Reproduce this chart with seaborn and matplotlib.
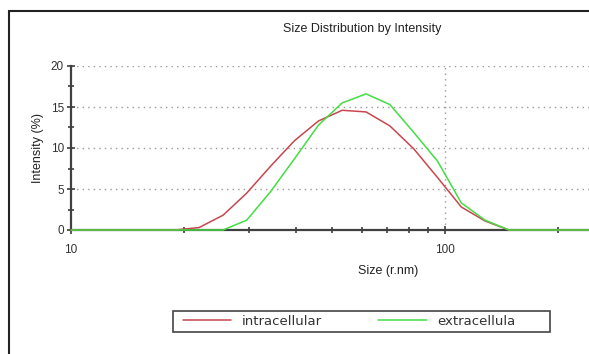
import numpy as np
import pandas as pd
import seaborn as sns
import matplotlib.pyplot as plt
from matplotlib.ticker import FixedLocator, NullFormatter, FixedFormatter
from matplotlib.patches import Rectangle

# size bins (r.nm) and intensity (%)
sizes = [10.0, 10.6, 12.2, 14.2, 16.4, 19.0, 22.0, 25.5, 29.5, 34.2, 39.6, 45.9,
         53.1, 61.5, 71.2, 82.5, 95.5, 110.6, 128.0, 148.3, 171.7, 198.8, 230.2, 266.6]
intracellular = [0, 0, 0, 0, 0, 0, 0.3, 1.8, 4.5, 7.8, 10.9, 13.3,
                 14.6, 14.4, 12.7, 9.9, 6.4, 2.8, 1.1, 0, 0, 0, 0, 0]
extracellular = [0, 0, 0, 0, 0, 0, 0, 0, 1.2, 4.7, 8.7, 12.8,
                 15.5, 16.6, 15.3, 11.9, 8.4, 3.3, 1.2, 0, 0, 0, 0, 0]
labels = ['intracellular', 'extracellula']
colors = ['#c8464e', '#44dd44']

df = pd.DataFrame({
    'size': sizes * 2,
    'intensity': intracellular + extracellular,
    'sample': [labels[0]] * len(sizes) + [labels[1]] * len(sizes),
})

sns.set_style('white')
plt.rcParams['font.family'] = ['Liberation Sans', 'DejaVu Sans']

fig = plt.figure(figsize=(5.89, 3.54), dpi=100)
ax = fig.add_axes([71 / 589, 1 - 230 / 354, 1 - 71 / 589, (230 - 66) / 354])

sns.lineplot(data=df, x='size', y='intensity', hue='sample', palette=colors,
             linewidth=1.1, ax=ax, legend=False)
for ln in ax.lines:
    ln.set_zorder(4)
    ln.set_clip_on(False)

ax.set_xscale('log')
ax.set_xlim(10, 242.7)
ax.set_ylim(0, 20)

ax.xaxis.set_major_locator(FixedLocator([10, 100]))
ax.xaxis.set_major_formatter(FixedFormatter(['10', '100']))
ax.xaxis.set_minor_locator(FixedLocator([20, 30, 40, 50, 60, 70, 80, 90, 200]))
ax.xaxis.set_minor_formatter(NullFormatter())
ax.yaxis.set_major_locator(FixedLocator([0, 5, 10, 15, 20]))
ax.yaxis.set_minor_locator(FixedLocator([2.5, 7.5, 12.5, 17.5]))

ax.tick_params(which='both', bottom=True, left=True, direction='inout',
               color='#404040', width=1.2)
ax.tick_params(which='major', length=6, labelsize=8.5, labelcolor='#333333', pad=2)
ax.tick_params(which='minor', length=4)
ax.tick_params(axis='x', which='major', pad=7)

for y in [5, 10, 15, 20]:
    ax.axhline(y, color='#999999', linestyle=(0, (1, 3)), linewidth=1.0, zorder=0)
ax.axvline(100, color='#999999', linestyle=(0, (1, 3)), linewidth=1.0, zorder=0)

sns.despine(ax=ax, top=True, right=True)
for s in ['left', 'bottom']:
    ax.spines[s].set_color('#404040')
    ax.spines[s].set_linewidth(1.6)

ax.set_xlabel('')
ax.set_ylabel('')
fig.text(388 / 589, 1 - 271 / 354, 'Size (r.nm)', ha='center', va='center',
         fontsize=9, color='#222222')
fig.text(38 / 589, 1 - 148 / 354, 'Intensity (%)', ha='center', va='center',
         rotation=90, fontsize=9, color='#222222')
fig.text(362 / 589, 1 - 29 / 354, 'Size Distribution by Intensity', ha='center',
         va='center', fontsize=9, color='#222222')

# outer frame of the report panel
fig.patches.append(Rectangle((9 / 589, -0.1), 1.2, 1 - 11 / 354 + 0.1,
                             transform=fig.transFigure, fill=False,
                             edgecolor='#222222', linewidth=1.5))

# legend box
fig.patches.append(Rectangle((173 / 589, 1 - 332 / 354), (550 - 173) / 589, 21 / 354,
                             transform=fig.transFigure, fill=False,
                             edgecolor='#444444', linewidth=1.2))
handles = [plt.Line2D([], [], color=c, linewidth=1.1) for c in colors]
fig.legend(handles, labels, loc='center left', ncol=2,
           bbox_to_anchor=(176 / 589, 1 - 321.5 / 354),
           prop={'family': 'DejaVu Sans', 'size': 9.5}, handlelength=3.7,
           handletextpad=0.75, columnspacing=4.3, borderpad=0,
           frameon=False, labelcolor='#333333')

fig.savefig('out.png', dpi=100)
